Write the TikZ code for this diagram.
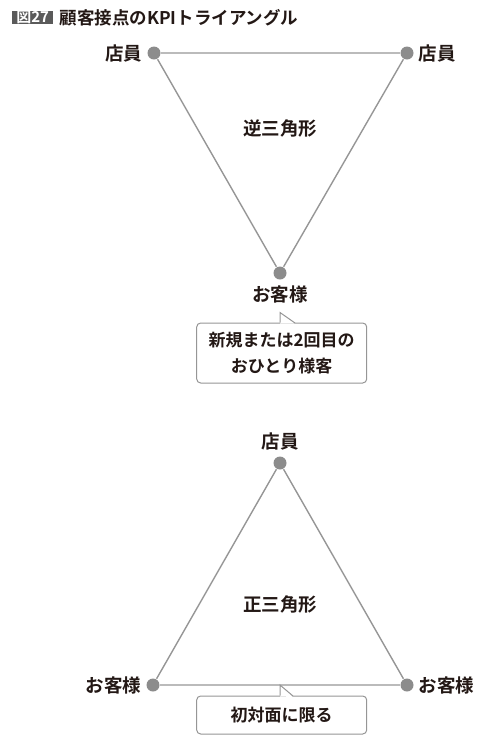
\documentclass[tikz,border=0pt]{standalone}
\usepackage{fontspec}
\setmainfont{Noto Sans CJK JP}[BoldFont={Noto Sans CJK JP Bold}]
\usetikzlibrary{positioning}
\definecolor{kgray}{RGB}{150,150,150}
\definecolor{kdot}{RGB}{140,140,140}
\definecolor{kink}{RGB}{35,24,21}
\definecolor{ktag}{RGB}{90,90,90}

\begin{document}
\begin{tikzpicture}[x=1pt, y=-1pt, node distance=3pt, line width=1.4pt,
  vertex/.style={circle, fill=kdot, minimum size=13pt, inner sep=0pt},
  role/.style={font=\bfseries\fontsize{18.5}{20}\selectfont, text=kink, inner sep=1pt},
  figname/.style={font=\bfseries\fontsize{18.5}{20}\selectfont, text=kink},
  note/.style={draw=kgray, line width=1pt, fill=white, rounded corners=4pt, minimum width=170pt,
    align=center, font=\bfseries\fontsize{17}{26}\selectfont, text=kink}]
\useasboundingbox (0,0) rectangle (486,748);
% title
\node[fill=ktag, text=white, font=\bfseries\fontsize{15}{15}\selectfont, inner sep=0pt,
  minimum width=41pt, minimum height=13.6pt] (tag) at (32.7,17.5) {図27};
\node[right=5pt of tag, font=\bfseries\fontsize{17.5}{18}\selectfont, text=kink, inner sep=0pt] (title) {顧客接点のKPIトライアングル};

% inverted triangle
\node[vertex] (a1) at (154,53) {};
\node[vertex] (b1) at (407,53) {};
\node[vertex] (c1) at (280,273) {};
\draw[kgray] (a1) -- (b1) -- (c1) -- (a1);
\node[role, left=of a1] (a1t) {店員};
\node[role, right=of b1] (b1t) {店員};
\node[role, below=4pt of c1] (c1t) {お客様};
\node[figname] (inv) at (280,128) {逆三角形};
\node[note, minimum height=60pt] (note1) at (281.7,353) {新規または2回目の\\おひとり様客};
\coordinate (tip1) at (280,312.5);
\fill[white] ([yshift=-1pt]note1.north -| tip1) -- (tip1) -- ++(15,11.2) -- cycle;
\draw[kgray, line width=1pt] (note1.north -| tip1) -- (tip1) -- ++(15,10.5);

% upright triangle
\node[vertex] (a2) at (280,463) {};
\node[vertex] (b2) at (153,685) {};
\node[vertex] (c2) at (407,685) {};
\draw[kgray] (a2) -- (b2) -- (c2) -- (a2);
\node[role, above=4pt of a2] (a2t) {店員};
\node[role, left=of b2] (b2t) {お客様};
\node[role, right=of c2] (c2t) {お客様};
\node[figname] (reg) at (280,604) {正三角形};
\node[note, minimum height=38pt] (note2) at (281.7,715) {初対面に限る};
\coordinate (tip2) at (280,685);
\fill[white] ([yshift=-1pt]note2.north -| tip2) -- ([yshift=-0.8pt]tip2) -- ++(13,11.2) -- cycle;
\draw[kgray, line width=1pt] (note2.north -| tip2) -- (tip2) -- ++(13,11);
\end{tikzpicture}
\end{document}
